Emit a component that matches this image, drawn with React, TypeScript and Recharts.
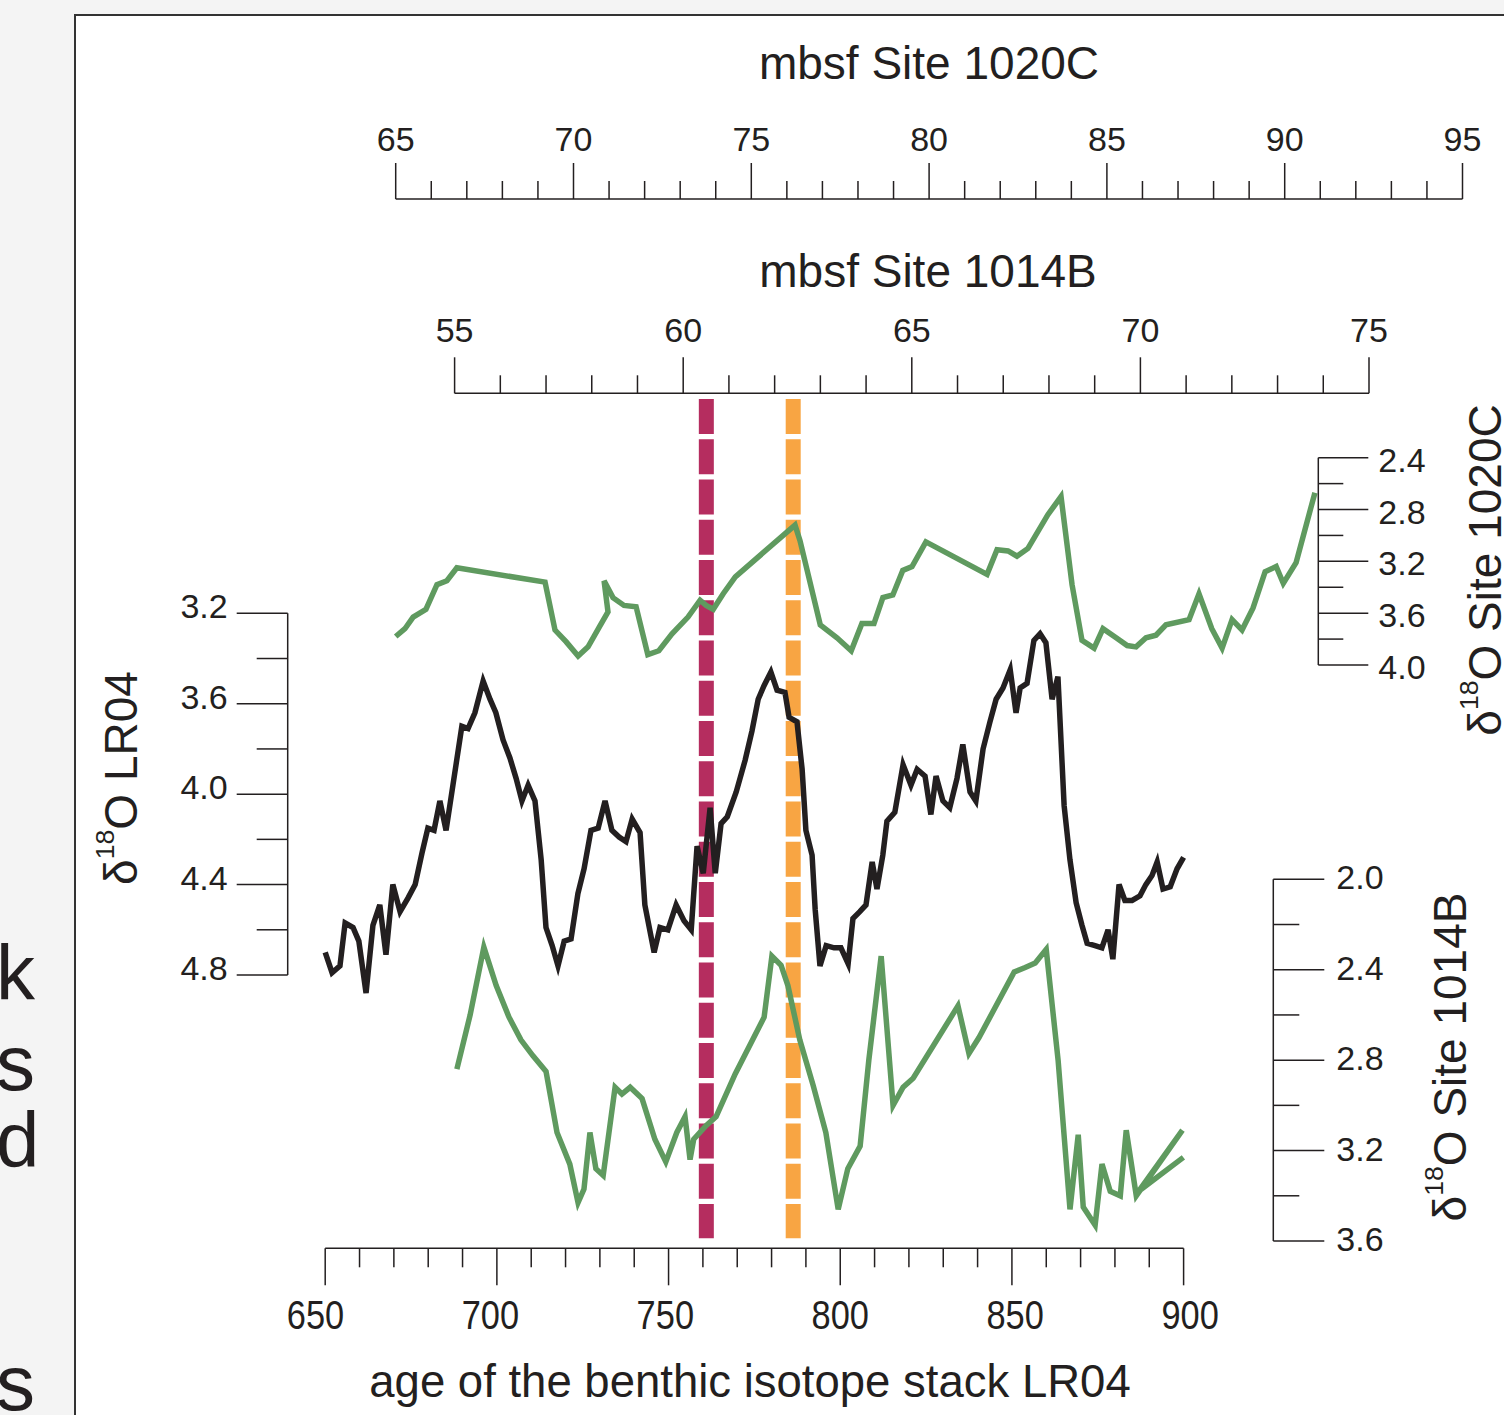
import React from 'react';
import { LineChart, Line, XAxis, YAxis, ReferenceLine } from 'recharts';

const PAGE_W = 1504;
const PAGE_H = 1415;
const INK = '#231f20';
const GREEN = '#5f9a5f';
const FONT = '"Liberation Sans", Arial, Helvetica, sans-serif';

// LR04 benthic stack (age ka, d18O)
const lr04Age = [
  650.0, 652.0, 654.3, 655.8, 658.1, 659.8, 661.9, 663.9, 665.9, 667.7,
  669.7, 671.8, 674.1, 676.2, 678.2, 679.9, 681.7, 683.4, 685.2, 687.2,
  689.8, 691.6, 693.6, 696.0, 698.0, 699.7, 701.8, 703.8, 705.6, 707.3,
  709.1, 711.1, 712.9, 714.3, 716.1, 717.8, 719.6, 721.6, 723.6, 725.4,
  727.4, 729.5, 731.5, 733.5, 735.6, 737.6, 739.4, 741.7, 743.1, 745.8,
  747.5, 749.8, 752.2, 754.5, 756.6, 758.3, 760.1, 762.1, 763.6, 765.3,
  767.1, 769.7, 772.3, 774.3, 776.1, 777.8, 779.8, 781.6, 783.9, 785.1,
  787.4, 788.9, 790.0, 791.8, 792.7, 794.1, 795.9, 798.2, 800.2, 802.3,
  803.7, 805.7, 807.5, 809.3, 810.7, 812.4, 813.6, 815.9, 818.3, 820.6,
  822.4, 824.7, 826.4, 827.9, 829.9, 831.9, 834.0, 835.7, 837.8, 839.5,
  841.6, 843.6, 845.4, 847.4, 849.5, 851.2, 852.4, 854.4, 856.4, 858.2,
  859.9, 861.7, 863.4, 865.2, 866.9, 868.7, 870.4, 871.9, 874.2, 876.2,
  878.0, 879.4, 881.2, 882.9, 885.0, 887.3, 889.0, 890.8, 892.3, 894.0,
  896.1, 898.1, 900.0,
];
const lr04D18O = [
  4.70, 4.79, 4.76, 4.57, 4.59, 4.65, 4.88, 4.58, 4.49, 4.71,
  4.40, 4.52, 4.46, 4.40, 4.26, 4.15, 4.16, 4.03, 4.16, 3.96,
  3.70, 3.71, 3.64, 3.50, 3.58, 3.64, 3.76, 3.84, 3.93, 4.03,
  3.96, 4.03, 4.29, 4.59, 4.67, 4.76, 4.65, 4.64, 4.44, 4.33,
  4.16, 4.15, 4.03, 4.16, 4.19, 4.21, 4.11, 4.17, 4.49, 4.70,
  4.59, 4.60, 4.49, 4.56, 4.60, 4.23, 4.35, 4.06, 4.35, 4.13,
  4.10, 3.99, 3.85, 3.72, 3.58, 3.52, 3.46, 3.54, 3.55, 3.66,
  3.68, 3.89, 4.16, 4.27, 4.51, 4.76, 4.67, 4.68, 4.68, 4.75,
  4.55, 4.52, 4.49, 4.30, 4.42, 4.27, 4.12, 4.08, 3.87, 3.96,
  3.89, 3.92, 4.09, 3.92, 4.03, 4.06, 3.93, 3.78, 3.99, 4.03,
  3.80, 3.68, 3.58, 3.53, 3.45, 3.64, 3.53, 3.51, 3.32, 3.29,
  3.33, 3.58, 3.48, 4.05, 4.29, 4.48, 4.58, 4.66, 4.67, 4.68,
  4.60, 4.73, 4.40, 4.47, 4.47, 4.45, 4.40, 4.36, 4.30, 4.42,
  4.41, 4.33, 4.28,
];

// Site 1020C (mbsf, d18O)
const site1020Depth = [
  65.00, 65.26, 65.49, 65.85, 66.16, 66.44, 66.72, 69.20, 69.48, 69.79,
  70.13, 70.41, 70.72, 70.97, 70.86, 71.11, 71.42, 71.76, 72.09, 72.40,
  72.77, 73.22, 73.56, 73.73, 73.93, 74.21, 74.55, 76.23, 76.37, 76.94,
  77.41, 77.81, 78.11, 78.45, 78.70, 78.98, 79.26, 79.52, 79.91, 81.63,
  81.91, 82.22, 82.47, 82.78, 83.34, 83.71, 84.02, 84.30, 84.64, 84.89,
  85.26, 85.57, 85.82, 86.10, 86.38, 86.66, 87.31, 87.59, 87.95, 88.24,
  88.52, 88.80, 89.11, 89.45, 89.76, 89.96, 90.32, 90.85,
];
const site1020D18O = [
  3.78, 3.72, 3.63, 3.57, 3.38, 3.35, 3.25, 3.36, 3.73, 3.82,
  3.93, 3.86, 3.71, 3.59, 3.35, 3.48, 3.54, 3.55, 3.92, 3.89,
  3.76, 3.63, 3.50, 3.54, 3.57, 3.45, 3.32, 2.92, 3.04, 3.69,
  3.79, 3.89, 3.68, 3.68, 3.48, 3.46, 3.27, 3.24, 3.05, 3.30,
  3.11, 3.12, 3.16, 3.10, 2.84, 2.70, 3.38, 3.81, 3.87, 3.72,
  3.79, 3.85, 3.86, 3.79, 3.77, 3.69, 3.65, 3.45, 3.72, 3.87,
  3.65, 3.73, 3.56, 3.28, 3.24, 3.37, 3.21, 2.67,
];

// Site 1014B (mbsf, d18O)
const site1014Depth = [
  55.05, 55.34, 55.64, 55.91, 56.19, 56.45, 56.71, 57.00, 57.24, 57.52,
  57.70, 57.83, 57.96, 58.09, 58.25, 58.51, 58.66, 58.84, 59.10, 59.38,
  59.62, 59.86, 60.04, 60.15, 60.23, 60.50, 60.72, 61.14, 61.77, 61.94,
  62.14, 62.29, 62.55, 62.84, 63.12, 63.39, 63.60, 63.87, 64.06, 64.33,
  64.59, 64.81, 65.03, 66.01, 66.25, 66.47, 67.24, 67.48, 67.70, 67.94,
  68.20, 68.46, 68.64, 68.75, 69.01, 69.16, 69.34, 69.56, 69.69, 69.91,
  70.92, 69.96, 70.94,
];
const site1014D18O = [
  2.84, 2.60, 2.30, 2.47, 2.61, 2.71, 2.78, 2.85, 3.12, 3.26,
  3.43, 3.37, 3.12, 3.28, 3.31, 2.92, 2.95, 2.92, 2.97, 3.15,
  3.25, 3.12, 3.05, 3.24, 3.15, 3.09, 3.05, 2.86, 2.61, 2.34,
  2.38, 2.47, 2.71, 2.91, 3.12, 3.46, 3.28, 3.18, 2.80, 2.34,
  3.00, 2.92, 2.88, 2.56, 2.77, 2.70, 2.41, 2.39, 2.37, 2.31,
  2.80, 3.46, 3.13, 3.45, 3.53, 3.26, 3.38, 3.40, 3.11, 3.40,
  3.11, 3.38, 3.23,
];

// dashed event markers (age)
const eventAges = [761.0, 786.3];
const eventColors = ['#b52d5f', '#f8a543'];

// ticks
const ageTicks = [650, 660, 670, 680, 690, 700, 710, 720, 730, 740, 750, 760, 770, 780, 790, 800, 810, 820, 830, 840, 850, 860, 870, 880, 890, 900];
const ageLabels = [650, 700, 750, 800, 850, 900];
const depth1020Ticks = [65, 66, 67, 68, 69, 70, 71, 72, 73, 74, 75, 76, 77, 78, 79, 80, 81, 82, 83, 84, 85, 86, 87, 88, 89, 90, 91, 92, 93, 94, 95];
const depth1020Labels = [65, 70, 75, 80, 85, 90, 95];
const depth1014Ticks = [55, 56, 57, 58, 59, 60, 61, 62, 63, 64, 65, 66, 67, 68, 69, 70, 71, 72, 73, 74, 75];
const depth1014Labels = [55, 60, 65, 70, 75];
const lr04Ticks = [3.2, 3.4, 3.6, 3.8, 4.0, 4.2, 4.4, 4.6, 4.8];
const lr04Labels = [3.2, 3.6, 4.0, 4.4, 4.8];
const d1020Ticks = [2.4, 2.6, 2.8, 3.0, 3.2, 3.4, 3.6, 3.8, 4.0];
const d1020Labels = [2.4, 2.8, 3.2, 3.6, 4.0];
const d1014Ticks = [2.0, 2.2, 2.4, 2.6, 2.8, 3.0, 3.2, 3.4, 3.6];
const d1014Labels = [2.0, 2.4, 2.8, 3.2, 3.6];

// where each axis sits on the page: value v0 at pixel p0, v1 at p1, axis line at `line`
type Axis = { v0: number; v1: number; p0: number; p1: number; line: number };
const AGE: Axis = { v0: 650, v1: 900, p0: 325.2, p1: 1183.6, line: 1248.3 };
const DEPTH_1020: Axis = { v0: 65, v1: 95, p0: 395.7, p1: 1462.5, line: 199 };
const DEPTH_1014: Axis = { v0: 55, v1: 75, p0: 454.6, p1: 1369, line: 393.3 };
const LR04: Axis = { v0: 3.2, v1: 4.8, p0: 613.3, p1: 975, line: 287.7 };
const ISO_1020: Axis = { v0: 2.4, v1: 4.0, p0: 457.7, p1: 665, line: 1318.3 };
const ISO_1014: Axis = { v0: 2.0, v1: 3.6, p0: 879.3, p1: 1241, line: 1273.3 };

const valueAt = (a: Axis, px: number) => a.v0 + ((px - a.p0) * (a.v1 - a.v0)) / (a.p1 - a.p0);
const toPoints = (xs: number[], ys: number[]) => xs.map((x, i) => ({ x, y: ys[i] }));

const lr04Data = toPoints(lr04Age, lr04D18O);
const site1020Data = toPoints(site1020Depth, site1020D18O);
const site1014Data = toPoints(site1014Depth, site1014D18O);

const overlay: React.CSSProperties = { position: 'absolute', left: 0, top: 0 };
const axisLine = { stroke: INK, strokeWidth: 1.5 };

type Orient = 'top' | 'bottom' | 'left' | 'right';
type LabelStyle = { size: number; squeeze: number; spread: number; center: number };
const plainLabels: LabelStyle = { size: 34, squeeze: 1, spread: 0, center: 0 };

function makeTick(orient: Orient, labels: number[], major: number, minor: number, gap: number, dy: number, digits: number, ls: LabelStyle = plainLabels) {
  return (props: any) => {
    const { x, y, payload } = props;
    const v = payload.value as number;
    const isMajor = labels.includes(v);
    const len = isMajor ? major : minor;
    const label = isMajor ? v.toFixed(digits) : null;
    let line;
    let lx = x;
    let ly = y;
    let anchor: 'middle' | 'end' | 'start' = 'middle';
    if (orient === 'top') {
      line = <line x1={x} y1={y} x2={x} y2={y - len} stroke={INK} strokeWidth={1.5} />;
      ly = y - major - gap;
    } else if (orient === 'bottom') {
      line = <line x1={x} y1={y} x2={x} y2={y + len} stroke={INK} strokeWidth={1.5} />;
      ly = y + major + gap;
    } else if (orient === 'left') {
      line = <line x1={x} y1={y} x2={x - len} y2={y} stroke={INK} strokeWidth={1.5} />;
      lx = x - major - gap;
      ly = y + dy;
      anchor = 'end';
    } else {
      line = <line x1={x} y1={y} x2={x + len} y2={y} stroke={INK} strokeWidth={1.5} />;
      lx = x + major + gap;
      ly = y + dy;
      anchor = 'start';
    }
    lx += (v - ls.center) * ls.spread;
    return (
      <g>
        {line}
        {label && (
          <text
            transform={`translate(${lx} ${ly}) scale(${ls.squeeze} 1)`}
            textAnchor={anchor}
            fontFamily={FONT}
            fontSize={ls.size}
            fill={INK}
          >
            {label}
          </text>
        )}
      </g>
    );
  };
}

const AXIS_SIZE = 60;
const STUB = 40;

type Pt = { x: number; y: number };

function HorizontalAxis(p: { axis: Axis; data: Pt[]; orient: 'top' | 'bottom'; ticks: number[]; labels: number[]; major: number; minor: number; gap: number; ls?: LabelStyle }) {
  const { axis, orient } = p;
  const top = orient === 'top' ? axis.line - AXIS_SIZE : axis.line - STUB;
  const bottom = orient === 'top' ? PAGE_H - axis.line - STUB : PAGE_H - axis.line - AXIS_SIZE;
  return (
    <div style={overlay}>
      <LineChart data={p.data} width={PAGE_W} height={PAGE_H} margin={{ top, bottom, left: axis.p0, right: PAGE_W - axis.p1 }}>
        <XAxis
          type="number"
          dataKey="x"
          orientation={orient}
          domain={[axis.v0, axis.v1]}
          allowDataOverflow
          allowDuplicatedCategory={false}
          ticks={p.ticks}
          interval={0}
          height={AXIS_SIZE}
          tickSize={0}
          tickMargin={0}
          tickLine={false}
          axisLine={axisLine}
          tick={makeTick(orient, p.labels, p.major, p.minor, p.gap, 0, 0, p.ls)}
        />
        <YAxis hide type="number" domain={[0, 10]} allowDataOverflow />
      </LineChart>
    </div>
  );
}

function VerticalAxis(p: { axis: Axis; orient: 'left' | 'right'; ticks: number[]; labels: number[]; major: number; minor: number; gap: number; dy: number }) {
  const { axis, orient } = p;
  const left = orient === 'left' ? axis.line - AXIS_SIZE : axis.line - STUB;
  const right = orient === 'left' ? PAGE_W - axis.line - STUB : PAGE_W - axis.line - AXIS_SIZE;
  return (
    <div style={overlay}>
      <LineChart width={PAGE_W} height={PAGE_H} margin={{ top: axis.p0, bottom: PAGE_H - axis.p1, left, right }}>
        <XAxis hide type="number" domain={[0, 1]} allowDataOverflow />
        <YAxis
          type="number"
          orientation={orient}
          reversed
          domain={[axis.v0, axis.v1]}
          allowDataOverflow
          ticks={p.ticks}
          interval={0}
          width={AXIS_SIZE}
          tickSize={0}
          tickMargin={0}
          tickLine={false}
          axisLine={axisLine}
          tick={makeTick(orient, p.labels, p.major, p.minor, p.gap, p.dy, 1)}
        />
      </LineChart>
    </div>
  );
}

const DASH_TOP = 399;
const DASH_BOTTOM = 1238.3;

function EventMarkers() {
  return (
    <div style={overlay}>
      <LineChart
        data={lr04Data}
        width={PAGE_W}
        height={PAGE_H}
        margin={{ top: DASH_TOP, bottom: PAGE_H - DASH_BOTTOM, left: AGE.p0, right: PAGE_W - AGE.p1 }}
      >
        <XAxis hide type="number" dataKey="x" domain={[AGE.v0, AGE.v1]} allowDataOverflow allowDuplicatedCategory={false} />
        <YAxis hide type="number" domain={[0, 1]} reversed allowDataOverflow />
        {eventAges.map((age, i) => (
          <ReferenceLine
            key={age}
            segment={[{ x: age, y: 0 }, { x: age, y: 1 }]}
            stroke={eventColors[i]}
            strokeWidth={15}
            strokeDasharray="35 5.25"
          />
        ))}
      </LineChart>
    </div>
  );
}

function Curves() {
  const xDomain = (a: Axis): [number, number] => [valueAt(a, 0), valueAt(a, PAGE_W)];
  const yDomain = (a: Axis): [number, number] => [valueAt(a, 0), valueAt(a, PAGE_H)];
  return (
    <div style={overlay}>
      <LineChart width={PAGE_W} height={PAGE_H} margin={{ top: 0, right: 0, bottom: 0, left: 0 }}>
        <XAxis xAxisId="age" hide type="number" dataKey="x" domain={xDomain(AGE)} allowDataOverflow />
        <XAxis xAxisId="d1020" hide type="number" dataKey="x" domain={xDomain(DEPTH_1020)} allowDataOverflow />
        <XAxis xAxisId="d1014" hide type="number" dataKey="x" domain={xDomain(DEPTH_1014)} allowDataOverflow />
        <YAxis yAxisId="lr04" hide type="number" reversed domain={yDomain(LR04)} allowDataOverflow />
        <YAxis yAxisId="i1020" hide type="number" reversed domain={yDomain(ISO_1020)} allowDataOverflow />
        <YAxis yAxisId="i1014" hide type="number" reversed domain={yDomain(ISO_1014)} allowDataOverflow />
        <Line xAxisId="d1020" yAxisId="i1020" data={site1020Data} dataKey="y" stroke={GREEN} strokeWidth={5.5} dot={false} isAnimationActive={false} />
        <Line xAxisId="d1014" yAxisId="i1014" data={site1014Data} dataKey="y" stroke={GREEN} strokeWidth={5.5} dot={false} isAnimationActive={false} />
        <Line xAxisId="age" yAxisId="lr04" data={lr04Data} dataKey="y" stroke={INK} strokeWidth={5.5} dot={false} isAnimationActive={false} />
      </LineChart>
    </div>
  );
}

const textBase: React.CSSProperties = {
  position: 'absolute',
  fontFamily: FONT,
  color: INK,
  whiteSpace: 'nowrap',
  lineHeight: 1,
};

function Title(p: { x: number; y: number; size: number; rotate?: boolean; children: React.ReactNode }) {
  return (
    <div
      style={{
        ...textBase,
        left: p.x,
        top: p.y,
        fontSize: p.size,
        transform: `translate(-50%, -50%)${p.rotate ? ' rotate(-90deg)' : ''}`,
      }}
    >
      {p.children}
    </div>
  );
}

const Delta = (p: { rest: string }) => (
  <>
    δ<span style={{ fontSize: '0.58em', position: 'relative', top: '-0.85em' }}>18</span>O {p.rest}
  </>
);

const sideLetters = [
  { ch: 'k', base: 1000 },
  { ch: 's', base: 1090 },
  { ch: 'd', base: 1167 },
  { ch: 's', base: 1410 },
];

export default function App() {
  return (
    <div style={{ position: 'absolute', left: 0, top: 0, width: PAGE_W, height: PAGE_H, background: '#f4f4f4', overflow: 'hidden' }}>
      <div
        style={{
          position: 'absolute',
          left: 74,
          top: 14,
          right: 0,
          bottom: 0,
          background: '#ffffff',
          borderLeft: '2.5px solid #333333',
          borderTop: '2.5px solid #333333',
        }}
      />
      {sideLetters.map((s, i) => (
        <div key={i} style={{ ...textBase, lineHeight: 0.7, left: -4, top: s.base - 0.6965 * 78, fontSize: 78 }}>
          {s.ch}
        </div>
      ))}

      <EventMarkers />
      <Curves />

      <HorizontalAxis axis={DEPTH_1020} data={site1020Data} orient="top" ticks={depth1020Ticks} labels={depth1020Labels} major={36} minor={18} gap={12} />
      <HorizontalAxis axis={DEPTH_1014} data={site1014Data} orient="top" ticks={depth1014Ticks} labels={depth1014Labels} major={36} minor={18} gap={15} />
      <HorizontalAxis
        axis={AGE}
        data={lr04Data}
        orient="bottom"
        ticks={ageTicks}
        labels={ageLabels}
        major={37}
        minor={19}
        gap={44}
        ls={{ size: 40, squeeze: 0.86, spread: 0.065, center: 800 }}
      />
      <VerticalAxis axis={LR04} orient="left" ticks={lr04Ticks} labels={lr04Labels} major={51} minor={31} gap={9} dy={5} />
      <VerticalAxis axis={ISO_1020} orient="right" ticks={d1020Ticks} labels={d1020Labels} major={50} minor={25} gap={10} dy={14} />
      <VerticalAxis axis={ISO_1014} orient="right" ticks={d1014Ticks} labels={d1014Labels} major={51} minor={26} gap={12} dy={10} />

      <Title x={929} y={63} size={46}>mbsf Site 1020C</Title>
      <Title x={928} y={271} size={46}>mbsf Site 1014B</Title>
      <Title x={750} y={1382} size={45.5}>age of the benthic isotope stack LR04</Title>
      <Title x={121} y={778} size={46} rotate>
        <Delta rest="LR04" />
      </Title>
      <Title x={1485} y={570} size={46} rotate>
        <Delta rest="Site 1020C" />
      </Title>
      <Title x={1450} y={1057} size={46} rotate>
        <Delta rest="Site 1014B" />
      </Title>
    </div>
  );
}
